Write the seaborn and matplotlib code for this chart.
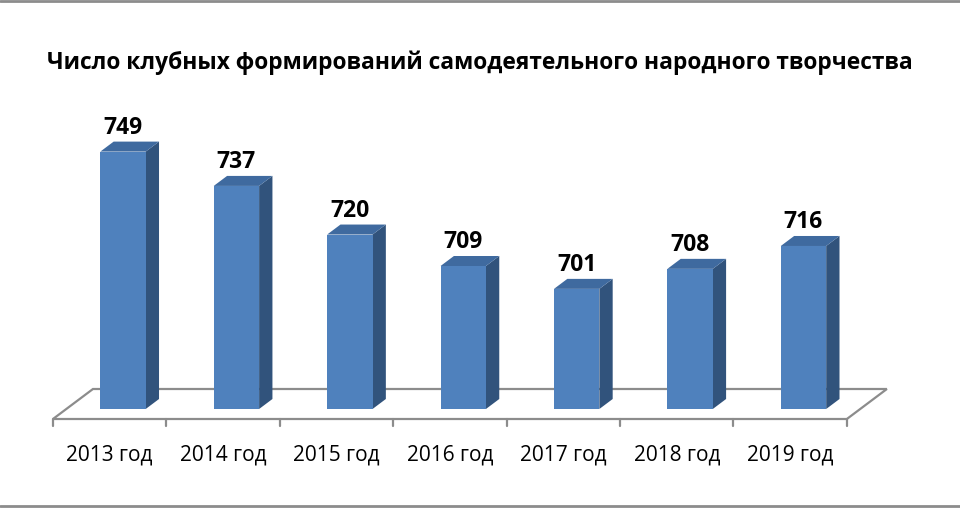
import numpy as np
import pandas as pd
import seaborn as sns
import matplotlib
matplotlib.use('Agg')
from matplotlib import pyplot as plt
from matplotlib.patches import Polygon

# Данные диаграммы
years = ['2013 год', '2014 год', '2015 год', '2016 год', '2017 год', '2018 год', '2019 год']
values = [749, 737, 720, 709, 701, 708, 716]
title = 'Число клубных формирований самодеятельного народного творчества'

front_color = '#4F81BD'
side_color = '#31537C'
top_color = '#3F6A9F'
floor_color = '#8C8C8C'

sns.set_style('white')
plt.rcParams['font.family'] = ['Open Sans', 'DejaVu Sans']

df = pd.DataFrame({'year': years, 'value': values})

fig = plt.figure(figsize=(9.6, 5.1), dpi=100)
ax = fig.add_axes([66.3 / 960, 100 / 510, 793.9 / 960, 286 / 510])
sns.barplot(data=df, x='year', y='value', color=front_color, saturation=1,
            width=0.4, ax=ax, linewidth=0)
ax.set_xlim(-0.5, len(years) - 0.5)
ax.set_ylim(659, 759)
ax.axis('off')

# пиксели на единицу данных, чтобы рисовать "глубину" как в Excel
p0 = ax.transData.transform((0, 659))
p1 = ax.transData.transform((1, 660))
px_x = p1[0] - p0[0]
px_y = p1[1] - p0[1]
depth_x = 40 / px_x
depth_y = 30 / px_y
bx, by = depth_x / 3, depth_y / 3
base = 659

# пол
fx0, fx1 = -0.5 - bx, len(years) - 0.5 - bx
fy = base - by
floor = Polygon([(fx0, fy), (fx1, fy), (fx1 + depth_x, fy + depth_y), (fx0 + depth_x, fy + depth_y)],
                closed=True, facecolor='white', edgecolor=floor_color, lw=1.6, clip_on=False, zorder=0)
ax.add_patch(floor)
for k in range(len(years) + 1):
    ax.plot([fx0 + k, fx0 + k], [fy, fy - 7 / px_y], color=floor_color, lw=1.6, clip_on=False, zorder=0)

# боковые и верхние грани столбиков
for bar in ax.patches[:]:
    if bar is floor:
        continue
    x0 = bar.get_x()
    w = bar.get_width()
    h = bar.get_height()
    x1 = x0 + w
    bar.set_zorder(3)
    side = Polygon([(x1, base), (x1, h), (x1 + bx, h + by), (x1 + bx, base + by)],
                   closed=True, facecolor=side_color, edgecolor='none', zorder=2, clip_on=False)
    top = Polygon([(x0, h), (x1, h), (x1 + bx, h + by), (x0 + bx, h + by)],
                  closed=True, facecolor=top_color, edgecolor='none', zorder=2, clip_on=False)
    ax.add_patch(side)
    ax.add_patch(top)

for i, v in enumerate(values):
    ax.annotate(str(v), (i, v), xytext=(0, 13.7), textcoords='offset points', ha='center',
                va='baseline', fontsize=16.5, fontweight='bold', color='black', annotation_clip=False)
    ax.text(i - bx, fy - 35 / px_y, years[i], ha='center', va='center', fontsize=15, color='black', clip_on=False)

fig.text(0.5, 1 - 63 / 510, title, ha='center', va='center', fontsize=16.4, fontweight='bold', color='black')

# рамка сверху и снизу
fig.add_artist(plt.Line2D([0, 1], [1 - 2 / 510, 1 - 2 / 510], color='#8C8C8C', lw=2))
fig.add_artist(plt.Line2D([0, 1], [3 / 510, 3 / 510], color='#8C8C8C', lw=2))

fig.savefig('out.png', dpi=100)
